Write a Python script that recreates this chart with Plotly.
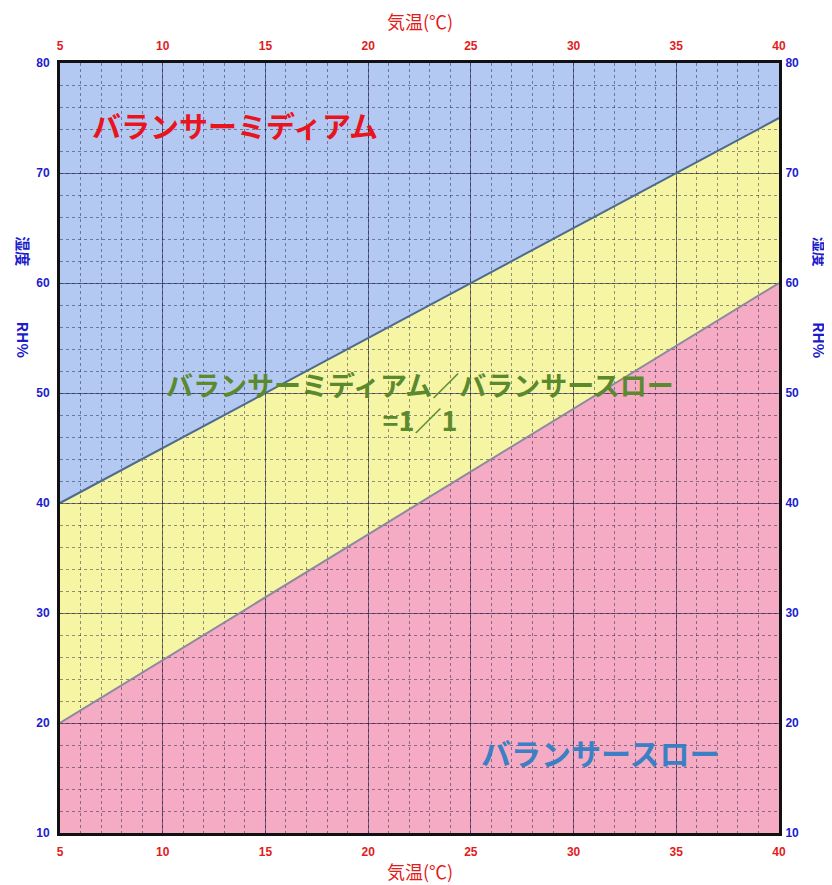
import plotly.graph_objects as go

# 気温 (x) と 湿度 (y) の範囲
temp = [5, 40]
upper_rh = [40, 75]   # ミディアム / 1:1 の境界
lower_rh = [20, 60]   # 1:1 / スロー の境界
x_range = [5, 40]
y_range = [10, 80]
x_ticks = [5, 10, 15, 20, 25, 30, 35, 40]
y_ticks = [10, 20, 30, 40, 50, 60, 70, 80]

BLUE = "#b4c9f2"
YELLOW = "#f6f5a4"
PINK = "#f5abc4"
JP = "Noto Sans CJK JP"


def poly(xs, ys):
    pts = ["%s %s,%s" % ("M" if i == 0 else "L", x, y) for i, (x, y) in enumerate(zip(xs, ys))]
    return " ".join(pts) + " Z"


fig = go.Figure()

# 領域 (グリッドの下に描く)
regions = [
    (BLUE, [temp[0], temp[1], temp[1], temp[0]], [upper_rh[0], upper_rh[1], y_range[1], y_range[1]]),
    (YELLOW, [temp[0], temp[1], temp[1], temp[0]], [lower_rh[0], lower_rh[1], upper_rh[1], upper_rh[0]]),
    (PINK, [temp[0], temp[1], temp[1], temp[0]], [y_range[0], y_range[0], lower_rh[1], lower_rh[0]]),
]
for color, xs, ys in regions:
    fig.add_shape(type="path", path=poly(xs, ys), xref="x", yref="y",
                  fillcolor=color, line_width=0, layer="below")

# 境界線
fig.add_trace(go.Scatter(x=temp, y=upper_rh, mode="lines",
                         line=dict(color="#4d6b8c", width=2), showlegend=False, hoverinfo="skip"))
fig.add_trace(go.Scatter(x=temp, y=lower_rh, mode="lines",
                         line=dict(color="#8c8a9c", width=2), showlegend=False, hoverinfo="skip"))
# 上・右の軸用
fig.add_trace(go.Scatter(x=temp, y=lower_rh, xaxis="x2", yaxis="y2", mode="lines",
                         line=dict(width=0), showlegend=False, hoverinfo="skip"))

xtick = dict(family="Liberation Sans", size=12, color="#e21b1b", weight="bold")
ytick = dict(family="Liberation Sans", size=12, color="#1c1ccc", weight="bold")
grid = dict(showgrid=True, gridcolor="rgba(20,20,60,0.55)", gridwidth=1,
            minor=dict(showgrid=True, gridcolor="rgba(20,20,60,0.45)", griddash="dot", gridwidth=1))
noticks = dict(ticks="outside", tickcolor="rgba(0,0,0,0)", automargin=False, zeroline=False)

fig.update_layout(
    width=832, height=885,
    margin=dict(l=52, r=61, t=55, b=60),
    plot_bgcolor="white", paper_bgcolor="white",
    xaxis=dict(range=x_range, tickvals=x_ticks, tickfont=xtick, ticklen=6,
               showline=True, linecolor="#111", linewidth=3, mirror=True,
               **noticks, **grid, minor_dtick=1),
    xaxis2=dict(range=x_range, tickvals=x_ticks, tickfont=xtick, overlaying="x",
                side="top", showgrid=False, ticklen=7, **noticks),
    yaxis=dict(range=y_range, tickvals=y_ticks, tickfont=ytick, ticklen=5,
               showline=True, linecolor="#111", linewidth=3, mirror=True,
               **noticks, **grid, minor_dtick=2),
    yaxis2=dict(range=y_range, tickvals=y_ticks, tickfont=ytick, overlaying="y",
                side="right", showgrid=False, ticklen=3, **noticks),
)

ann = [
    dict(text="気温(℃)", x=0.5, y=1.054, font=dict(color="#e21b1b", size=18)),
    dict(text="気温(℃)", x=0.5, y=-0.049, font=dict(color="#e21b1b", size=18)),
    dict(text="湿度", x=-0.051, y=0.755, textangle=90, font=dict(color="#1c1ccc", size=15, weight="bold")),
    dict(text="RH%", x=-0.051, y=0.64, textangle=90, font=dict(color="#1c1ccc", size=15, weight="bold")),
    dict(text="湿度", x=1.057, y=0.755, textangle=90, font=dict(color="#1c1ccc", size=15, weight="bold")),
    dict(text="RH%", x=1.057, y=0.64, textangle=90, font=dict(color="#1c1ccc", size=15, weight="bold")),
]
for a in ann:
    a["font"].setdefault("family", JP)
    fig.add_annotation(xref="paper", yref="paper", showarrow=False,
                       xanchor="center", yanchor="middle", **a)

# 領域ラベル
fig.add_annotation(x=13.5, y=74.4, text="バランサーミディアム", showarrow=False,
                   font=dict(family=JP, size=29, color="#e8141e", weight="bold"))
fig.add_annotation(x=22.5, y=49.2, text="バランサーミディアム／バランサースロー<br>=1／1",
                   showarrow=False,
                   font=dict(family=JP, size=27, color="#5b8a2e", weight="bold"))
fig.add_annotation(x=31.3, y=17.4, text="バランサースロー", showarrow=False,
                   font=dict(family=JP, size=30, color="#3b7fc4", weight="bold"))

fig.write_html("out.html")
